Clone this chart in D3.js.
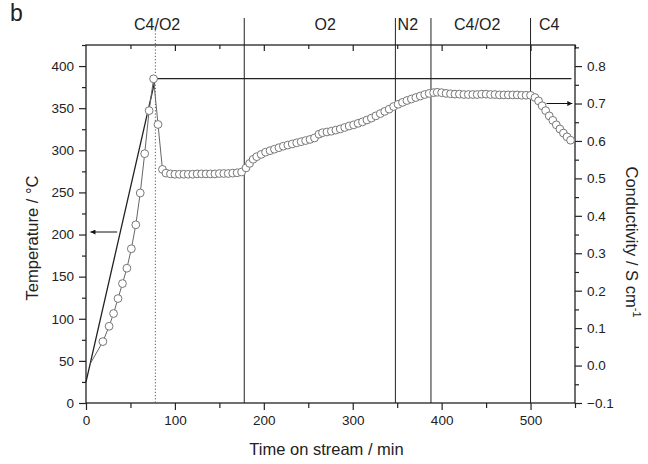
<!DOCTYPE html>
<html>
<head>
<meta charset="utf-8">
<script src="https://cdn.jsdelivr.net/npm/d3@7"></script>
<style>
  body { margin: 0; background: #fff; }
  svg text { font-family: "Liberation Sans", Arial, sans-serif; fill: #222; }
</style>
</head>
<body>
<div id="graph"></div>
<script>
// temperature programme (solid line), time in min / °C
var tempTime = [0, 5, 78, 546];
var tempValue = [25, 48, 385, 385];

// conductivity (open circles), time in min / S cm-1
var condTime = [5, 19, 26, 31, 36, 41, 46, 51, 56, 61, 66, 71, 76, 81, 86,
  90, 95, 100, 105, 110, 115, 120, 125, 130, 135, 140, 145, 150, 155, 160, 165, 170, 175,
  180, 184, 188, 192, 197, 202, 207, 212, 217, 222, 227, 232, 237, 242, 247, 252, 257,
  262, 266, 271, 276, 281, 286, 291, 296, 301, 306, 311, 316, 321, 326, 331, 336, 341,
  346, 351, 356, 361, 366, 371, 376, 381, 386, 391, 395, 400, 405, 410, 415, 420, 425,
  430, 435, 440, 445, 450, 455, 460, 465, 470, 475, 480, 485, 490, 495, 500,
  505, 509, 513, 517, 521, 525, 529, 533, 537, 541, 545];
var condValue = [0.006, 0.064, 0.105, 0.139, 0.179, 0.219, 0.260, 0.312, 0.376, 0.461, 0.566, 0.681, 0.766, 0.644, 0.524,
  0.514, 0.512, 0.511, 0.511, 0.511, 0.511, 0.511, 0.512, 0.512, 0.512, 0.512, 0.512, 0.513, 0.513, 0.513, 0.514, 0.515, 0.517,
  0.528, 0.540, 0.551, 0.558, 0.564, 0.570, 0.574, 0.578, 0.582, 0.586, 0.589, 0.592, 0.595, 0.598, 0.601, 0.604, 0.608,
  0.618, 0.622, 0.624, 0.626, 0.629, 0.632, 0.636, 0.640, 0.643, 0.647, 0.651, 0.656, 0.661, 0.667, 0.673, 0.679, 0.685,
  0.692, 0.698, 0.703, 0.708, 0.712, 0.716, 0.720, 0.724, 0.727, 0.729, 0.730, 0.729, 0.727, 0.726, 0.725, 0.725, 0.724,
  0.724, 0.724, 0.724, 0.725, 0.725, 0.724, 0.724, 0.723, 0.723, 0.723, 0.723, 0.723, 0.722, 0.722, 0.722,
  0.716, 0.707, 0.694, 0.681, 0.667, 0.655, 0.643, 0.632, 0.621, 0.611, 0.602];

// gas switches
var switchTime = [178, 348, 388, 500];
var rampEnd = 78;
var gasLabels = ["C4/O2", "O2", "N2", "C4/O2", "C4"];
var gasLabelTime = [80, 269, 362, 440, 521];

var xTicks = [0, 100, 200, 300, 400, 500];
var yTicks = [0, 50, 100, 150, 200, 250, 300, 350, 400];
var y2Ticks = [-0.1, 0.0, 0.1, 0.2, 0.3, 0.4, 0.5, 0.6, 0.7, 0.8];

var margin = {top: 45, right: 73, bottom: 61, left: 86},
    width = 648 - margin.left - margin.right,
    height = 464 - margin.top - margin.bottom;

const svg = d3.select("#graph")
  .append("svg")
    .attr("width", 648)
    .attr("height", 464)
  .append("g")
    .attr("transform", "translate(" + margin.left + "," + margin.top + ")");

var x = d3.scaleLinear().domain([0, 550]).range([0, width]);
var y = d3.scaleLinear().domain([0, 425]).range([height, 0]);
var y2 = d3.scaleLinear().domain([-0.1, 0.8563]).range([height, 0]);

// arrow head
svg.append("defs").append("marker")
    .attr("id", "head")
    .attr("viewBox", "0 0 10 10")
    .attr("refX", 10).attr("refY", 5)
    .attr("markerWidth", 8).attr("markerHeight", 5)
    .attr("markerUnits", "userSpaceOnUse")
    .attr("orient", "auto")
  .append("path")
    .attr("d", "M0,0L10,5L0,10z")
    .attr("fill", "#111");

// minor ticks
function minors(lo, hi, step) {
  var out = [];
  for (var v = lo; v <= hi + 1e-9; v += step) out.push(+v.toFixed(3));
  return out;
}

// bottom axis
svg.append("g")
  .attr("transform", "translate(0," + height + ")")
  .call(d3.axisBottom(x).tickValues(minors(50, 550, 100)).tickSize(5).tickFormat(""))
  .call(g => g.select(".domain").remove());
svg.append("g")
  .attr("transform", "translate(0," + height + ")")
  .call(d3.axisBottom(x).tickValues(xTicks).tickSize(7).tickPadding(5))
  .call(g => g.select(".domain").remove())
  .selectAll("text").style("font-size", "13.5px");

// top axis (ticks inside)
svg.append("g")
  .call(d3.axisBottom(x).tickValues(minors(50, 550, 100)).tickSize(4).tickFormat(""))
  .call(g => g.select(".domain").remove());
svg.append("g")
  .call(d3.axisBottom(x).tickValues(xTicks.slice(1)).tickSize(6).tickFormat(""))
  .call(g => g.select(".domain").remove());

// left axis
svg.append("g")
  .call(d3.axisLeft(y).tickValues(minors(25, 425, 50)).tickSize(4).tickFormat(""))
  .call(g => g.select(".domain").remove());
svg.append("g")
  .call(d3.axisLeft(y).tickValues(yTicks).tickSize(7).tickPadding(5))
  .call(g => g.select(".domain").remove())
  .selectAll("text").style("font-size", "13.5px");

// right axis
svg.append("g")
  .attr("transform", "translate(" + width + ",0)")
  .call(d3.axisRight(y2).tickValues(minors(-0.05, 0.85, 0.1)).tickSize(4).tickFormat(""))
  .call(g => g.select(".domain").remove());
svg.append("g")
  .attr("transform", "translate(" + width + ",0)")
  .call(d3.axisRight(y2).tickValues(y2Ticks).tickSize(7).tickPadding(5).tickFormat(d3.format(".1f")))
  .call(g => g.select(".domain").remove())
  .selectAll("text").style("font-size", "13.5px");

svg.selectAll(".tick line").attr("stroke", "#222").attr("stroke-width", 1.2);

// frame
svg.append("rect")
  .attr("width", width).attr("height", height)
  .attr("fill", "none").attr("stroke", "#222").attr("stroke-width", 1.3);

// gas switch lines
svg.selectAll(".switch")
  .data(switchTime)
  .enter().append("line")
    .attr("x1", d => x(d)).attr("x2", d => x(d))
    .attr("y1", -27).attr("y2", height)
    .attr("stroke", "#222").attr("stroke-width", 1);

svg.append("line")
  .attr("x1", x(rampEnd)).attr("x2", x(rampEnd))
  .attr("y1", -18).attr("y2", height)
  .attr("stroke", "#555").attr("stroke-width", 1)
  .attr("stroke-dasharray", "1.2,2");

svg.selectAll(".gas")
  .data(gasLabels)
  .enter().append("text")
    .attr("x", (d, i) => x(gasLabelTime[i]))
    .attr("y", -15)
    .attr("text-anchor", "middle")
    .style("font-size", "16px")
    .text(d => d);

// temperature line
var tempData = tempTime.map((t, i) => ({t: t, v: tempValue[i]}));
svg.append("path")
  .datum(tempData)
  .attr("fill", "none").attr("stroke", "#222").attr("stroke-width", 1.3)
  .attr("d", d3.line().x(d => x(d.t)).y(d => y(d.v)));

// conductivity
var condData = condTime.map((t, i) => ({t: t, v: condValue[i]}));
svg.append("path")
  .datum(condData)
  .attr("fill", "none").attr("stroke", "#666").attr("stroke-width", 1)
  .attr("d", d3.line().x(d => x(d.t)).y(d => y2(d.v)));

svg.selectAll(".pt")
  .data(condData.slice(1))
  .enter().append("circle")
    .attr("cx", d => x(d.t))
    .attr("cy", d => y2(d.v))
    .attr("r", 3.9)
    .attr("fill", "#fff")
    .attr("stroke", "#777")
    .attr("stroke-width", 1);

// axis arrows
svg.append("line")
  .attr("x1", x(35)).attr("x2", x(5))
  .attr("y1", y(203)).attr("y2", y(203))
  .attr("stroke", "#111").attr("stroke-width", 1)
  .attr("marker-end", "url(#head)");
svg.append("line")
  .attr("x1", x(518)).attr("x2", x(547))
  .attr("y1", y2(0.7)).attr("y2", y2(0.7))
  .attr("stroke", "#111").attr("stroke-width", 1)
  .attr("marker-end", "url(#head)");

// titles
svg.append("text")
  .attr("x", width / 2 - 4)
  .attr("y", height + 52)
  .attr("text-anchor", "middle")
  .style("font-size", "16.5px")
  .text("Time on stream / min");

svg.append("text")
  .attr("transform", "translate(" + (-48) + "," + (height / 2 + 14) + ") rotate(-90)")
  .attr("text-anchor", "middle")
  .style("font-size", "16.5px")
  .text("Temperature / °C");

var t2 = svg.append("text")
  .attr("transform", "translate(" + (width + 51) + "," + (height / 2 + 18) + ") rotate(90)")
  .attr("text-anchor", "middle")
  .style("font-size", "16.5px");
t2.append("tspan").text("Conductivity / S cm");
t2.append("tspan").attr("dy", -7).style("font-size", "11px").text("-1");

svg.append("text")
  .attr("x", -76)
  .attr("y", -24)
  .style("font-size", "23px")
  .text("b");
</script>
</body>
</html>
